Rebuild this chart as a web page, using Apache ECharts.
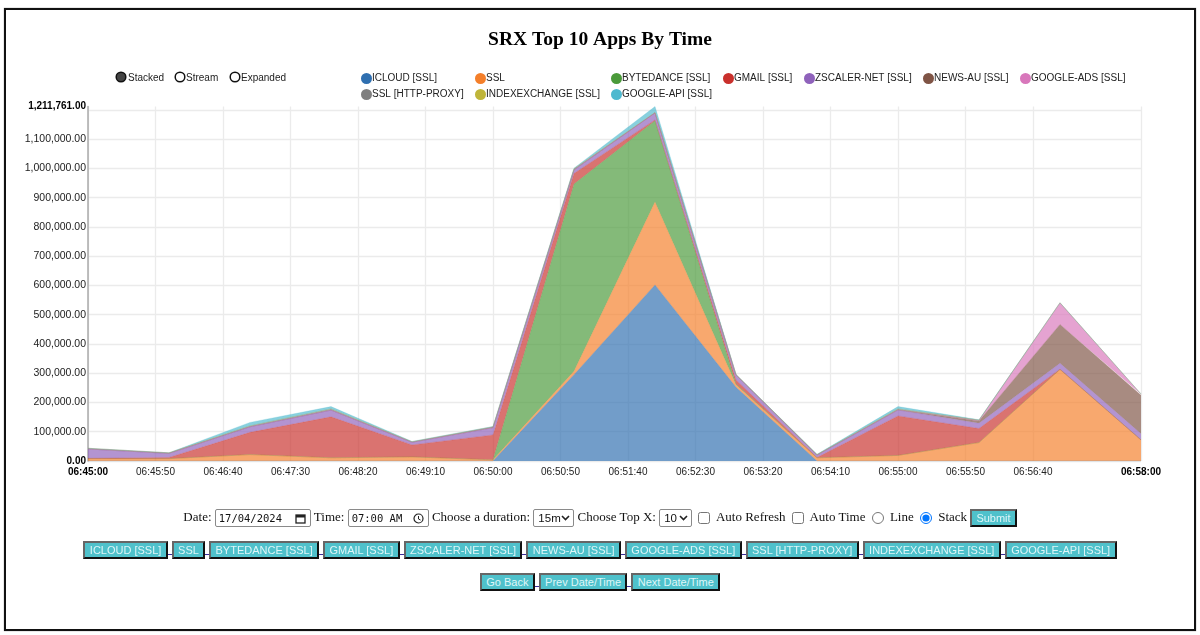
<!DOCTYPE html>
<html>
  <head>
    <meta charset="utf-8" />
    <title>SRX Top 10 Apps By Time</title>
    <script src="https://cdn.jsdelivr.net/npm/echarts@6/dist/echarts.min.js"></script>
    <style>
      body { margin: 0; background: #fff; overflow: hidden; }
      #frame {
        position: absolute; left: 4px; top: 8px; width: 1188px; height: 619px;
        border: 2px solid #111; box-shadow: 0 0 1px #777;
      }
      #main { position: absolute; left: 0; top: 0; width: 1200px; height: 500px; }
      .row {
        position: absolute; left: 0; width: 1200px; text-align: center; white-space: nowrap;
        font-family: "Liberation Serif", serif; font-size: 13px; color: #111;
      }
      .row input[type=text], .row select {
        font-family: "Liberation Sans", sans-serif; font-size: 11.5px; height: 18px;
        box-sizing: border-box; border: 1px solid #8a8a8a; border-radius: 2px; background-color: #fff;
        padding: 0; vertical-align: middle; color: #111;
      }
      .row select {
        appearance: none; padding-left: 4px; background-repeat: no-repeat; background-position: right 3px center;
        background-image: url("data:image/svg+xml,%3Csvg xmlns='http://www.w3.org/2000/svg' width='9' height='6'%3E%3Cpath d='M1 1l3.5 3.5L8 1' fill='none' stroke='%23222' stroke-width='1.6'/%3E%3C/svg%3E");
      }
      .row input[type=text] {
        font-family: "DejaVu Sans Mono", monospace; font-size: 10.5px; padding-left: 3px;
        background-repeat: no-repeat; background-position: right 4px center;
      }
      .row input[type=checkbox], .row input[type=radio] { margin: 0 3px 0 3px; vertical-align: middle; width: 12px; height: 12px; }
      .btn {
        display: inline-block; box-sizing: border-box; height: 18px; line-height: 14px; padding: 0 4.35px;
        background: #4fc1cb; color: #dff6f8; font-family: "Liberation Sans", sans-serif; font-size: 11px;
        border: 2px solid; border-color: #666 #111 #111 #666; vertical-align: middle;
      }
      .sep { display: inline-block; width: 4px; height: 9px; border-bottom: 1px solid #3a2a9a; vertical-align: middle; }
    </style>
  </head>
  <body>
    <div id="main"></div>
    <div id="frame"></div>
    <div class="row" style="top:509px">
      Date: <input type="text" value="17/04/2024" style="width:96px;background-image:url(&quot;data:image/svg+xml,%3Csvg xmlns='http://www.w3.org/2000/svg' width='11' height='11'%3E%3Crect x='1' y='2' width='9' height='8' fill='none' stroke='%23222' stroke-width='1.3'/%3E%3Crect x='1' y='2' width='9' height='2.5' fill='%23222'/%3E%3C/svg%3E&quot;)" />
      Time: <input type="text" value="07:00 AM" style="width:81px;background-image:url(&quot;data:image/svg+xml,%3Csvg xmlns='http://www.w3.org/2000/svg' width='11' height='11'%3E%3Ccircle cx='5.5' cy='5.5' r='4.5' fill='none' stroke='%23222' stroke-width='1.2'/%3E%3Cpath d='M5.5 3v3l2 1' fill='none' stroke='%23222'/%3E%3C/svg%3E&quot;)" />
      Choose a duration: <select style="width:41px"><option>15m</option></select>
      Choose Top X: <select style="width:33px"><option>10</option></select>
      <input type="checkbox" /> Auto Refresh
      <input type="checkbox" /> Auto Time
      <input type="radio" name="mode" /> Line
      <input type="radio" name="mode" checked /> Stack
      <span class="btn" style="padding:0 4px">Submit</span>
    </div>
    <div class="row" id="appRow" style="top:541px"></div>
    <div class="row" id="navRow" style="top:573px"></div>
    <script type="text/javascript">
const appNames = ['ICLOUD [SSL]', 'SSL', 'BYTEDANCE [SSL]', 'GMAIL [SSL]', 'ZSCALER-NET [SSL]', 'NEWS-AU [SSL]', 'GOOGLE-ADS [SSL]', 'SSL [HTTP-PROXY]', 'INDEXEXCHANGE [SSL]', 'GOOGLE-API [SSL]'];
const navNames = ['Go Back', 'Prev Date/Time', 'Next Date/Time'];
const appColors = ['#2f6fb0', '#f47f2a', '#4a9a3a', '#c9302c', '#8f62bb', '#7f5445', '#d877bb', '#7f7f7f', '#bfb53a', '#4fb9cf'];

// one sample a minute, 06:45 to 06:58
const times = ['06:45:00', '06:46:00', '06:47:00', '06:48:00', '06:49:00', '06:50:00', '06:51:00', '06:52:00', '06:53:00', '06:54:00', '06:55:00', '06:56:00', '06:57:00', '06:58:00'];
const icloud = [0, 0, 0, 0, 0, 0, 295000, 602000, 252000, 0, 0, 0, 0, 0];
const ssl = [8000, 8000, 22000, 11000, 14000, 4000, 12000, 283000, 9000, 11000, 19000, 63000, 313000, 72000];
const bytedance = [0, 0, 0, 0, 0, 0, 640000, 278000, 2000, 0, 0, 0, 0, 0];
const gmail = [1000, 4000, 76000, 140000, 41000, 85000, 36000, 3000, 14000, 1000, 135000, 48000, 1000, 0];
const zscaler = [32000, 14000, 19000, 23000, 9000, 25000, 12000, 24000, 17000, 8000, 20000, 18000, 20000, 21000];
const newsAu = [0, 0, 0, 0, 0, 0, 0, 0, 0, 0, 1000, 8000, 133000, 132000];
const googleAds = [0, 0, 0, 0, 0, 0, 0, 0, 0, 0, 0, 1000, 73000, 3000];
const httpProxy = [2500, 2000, 3000, 4000, 2000, 3000, 4000, 1000, 2000, 2000, 3000, 2000, 1000, 1000];
const indexExchange = [0, 0, 0, 0, 0, 0, 0, 0, 0, 0, 0, 0, 0, 0];
const googleApi = [0, 0, 12000, 8000, 1000, 1000, 2000, 20761, 0, 1000, 8000, 1000, 0, 0];
const appValues = [icloud, ssl, bytedance, gmail, zscaler, newsAu, googleAds, httpProxy, indexExchange, googleApi];

const yMax = 1211761;
const xTickLabels = ['06:45:00', '06:45:50', '06:46:40', '06:47:30', '06:48:20', '06:49:10', '06:50:00', '06:50:50', '06:51:40', '06:52:30', '06:53:20', '06:54:10', '06:55:00', '06:55:50', '06:56:40', '06:58:00'];
const modeNames = ['Stacked', 'Stream', 'Expanded'];

// x axis runs in seconds of the day
function toSec(t) {
  const p = t.split(':');
  return +p[0] * 3600 + +p[1] * 60 + +p[2];
}
function pad(n) { return (n < 10 ? '0' : '') + n; }
function fmtTime(v) {
  return pad(Math.floor(v / 3600)) + ':' + pad(Math.floor(v / 60) % 60) + ':' + pad(v % 60);
}
function fmtNum(v) {
  return v.toLocaleString('en-US', { minimumFractionDigits: 2, maximumFractionDigits: 2 });
}

const xMin = toSec(times[0]);
const xMax = toSec(times[times.length - 1]);
const xTicks = xTickLabels.map(toSec);

const legendSlots = [[361, 73], [475, 73], [611, 73], [723, 73], [804, 73], [923, 73], [1020, 73], [361, 89], [475, 89], [611, 89]];
const modeSlots = [[121, 128], [180, 186], [235, 241]];
const labelFont = '"Liberation Sans", Arial, sans-serif';

const modeGraphics = [];
modeNames.forEach(function (name, i) {
  modeGraphics.push({
    type: 'circle', shape: { cx: modeSlots[i][0], cy: 77, r: 4.8 }, silent: true,
    style: { fill: i === 0 ? '#444' : '#fff', stroke: '#111', lineWidth: 1.5 }
  });
  modeGraphics.push({
    type: 'text', x: modeSlots[i][1], y: 78.5, silent: true,
    style: { text: name, font: '10px ' + labelFont, fill: '#222', verticalAlign: 'middle' }
  });
});

var chartDom = document.getElementById('main');
var myChart = echarts.init(chartDom, null, { renderer: 'canvas' });
var option = {
  animation: false,
  title: {
    text: 'SRX Top 10 Apps By Time', left: 'center', top: 25,
    textStyle: { fontFamily: '"Liberation Serif", serif', fontSize: 19.5, fontWeight: 'bold', color: '#000' }
  },
  legend: appNames.map(function (name, i) {
    return {
      data: [name], left: legendSlots[i][0], top: legendSlots[i][1], padding: 0,
      icon: 'circle', itemWidth: 11, itemHeight: 11, itemGap: 0,
      textStyle: { fontFamily: labelFont, fontSize: 10, color: '#222', padding: [0, 0, 0, -5] }
    };
  }),
  grid: { left: 88, right: 59, top: 106.5, bottom: 39 },
  xAxis: {
    type: 'value', min: xMin, max: xMax,
    axisLine: { show: false },
    axisTick: { show: false, customValues: xTicks },
    splitLine: { show: true, lineStyle: { color: '#ebebeb', width: 1.3 } },
    axisLabel: {
      customValues: xTicks, margin: 6, hideOverlap: false, showMinLabel: true, showMaxLabel: true,
      fontFamily: labelFont, fontSize: 10, color: '#222',
      formatter: function (v) {
        const s = fmtTime(v);
        return (v === xMin || v === xMax) ? '{b|' + s + '}' : s;
      },
      rich: { b: { fontFamily: labelFont, fontSize: 10, fontWeight: 'bold', color: '#000' } }
    }
  },
  yAxis: {
    type: 'value', min: 0, max: yMax, interval: 100000,
    axisLine: { show: true, lineStyle: { color: '#aaa', width: 1.5 } },
    axisTick: { show: false },
    splitLine: { show: true, showMaxLine: false, lineStyle: { color: '#ebebeb', width: 1.3 } },
    axisLabel: {
      margin: 2, fontFamily: labelFont, fontSize: 10.5, color: '#222',
      formatter: function (v) {
        if (v === 1200000) return '';
        return (v === 0 || v === yMax) ? '{b|' + fmtNum(v) + '}' : fmtNum(v);
      },
      rich: { b: { fontFamily: labelFont, fontSize: 10, fontWeight: 'bold', color: '#000' } }
    }
  },
  color: appColors,
  series: appNames.map(function (name, i) {
    return {
      name: name, type: 'line', stack: 'apps', symbol: 'none', showSymbol: false,
      // value column first: echarts stacks the first numeric column
      encode: { x: 1, y: 0 },
      lineStyle: { width: 1, opacity: 0.22 }, areaStyle: { opacity: 0.68 },
      data: appValues[i].map(function (v, j) { return [v, toSec(times[j])]; })
    };
  }),
  graphic: { elements: modeGraphics }
};
myChart.setOption(option);

function fillButtons(id, names) {
  document.getElementById(id).innerHTML = names.map(function (n) {
    return '<span class="btn">' + n + '</span>';
  }).join('<span class="sep"></span>');
}
fillButtons('appRow', appNames);
fillButtons('navRow', navNames);
    </script>
  </body>
</html>
